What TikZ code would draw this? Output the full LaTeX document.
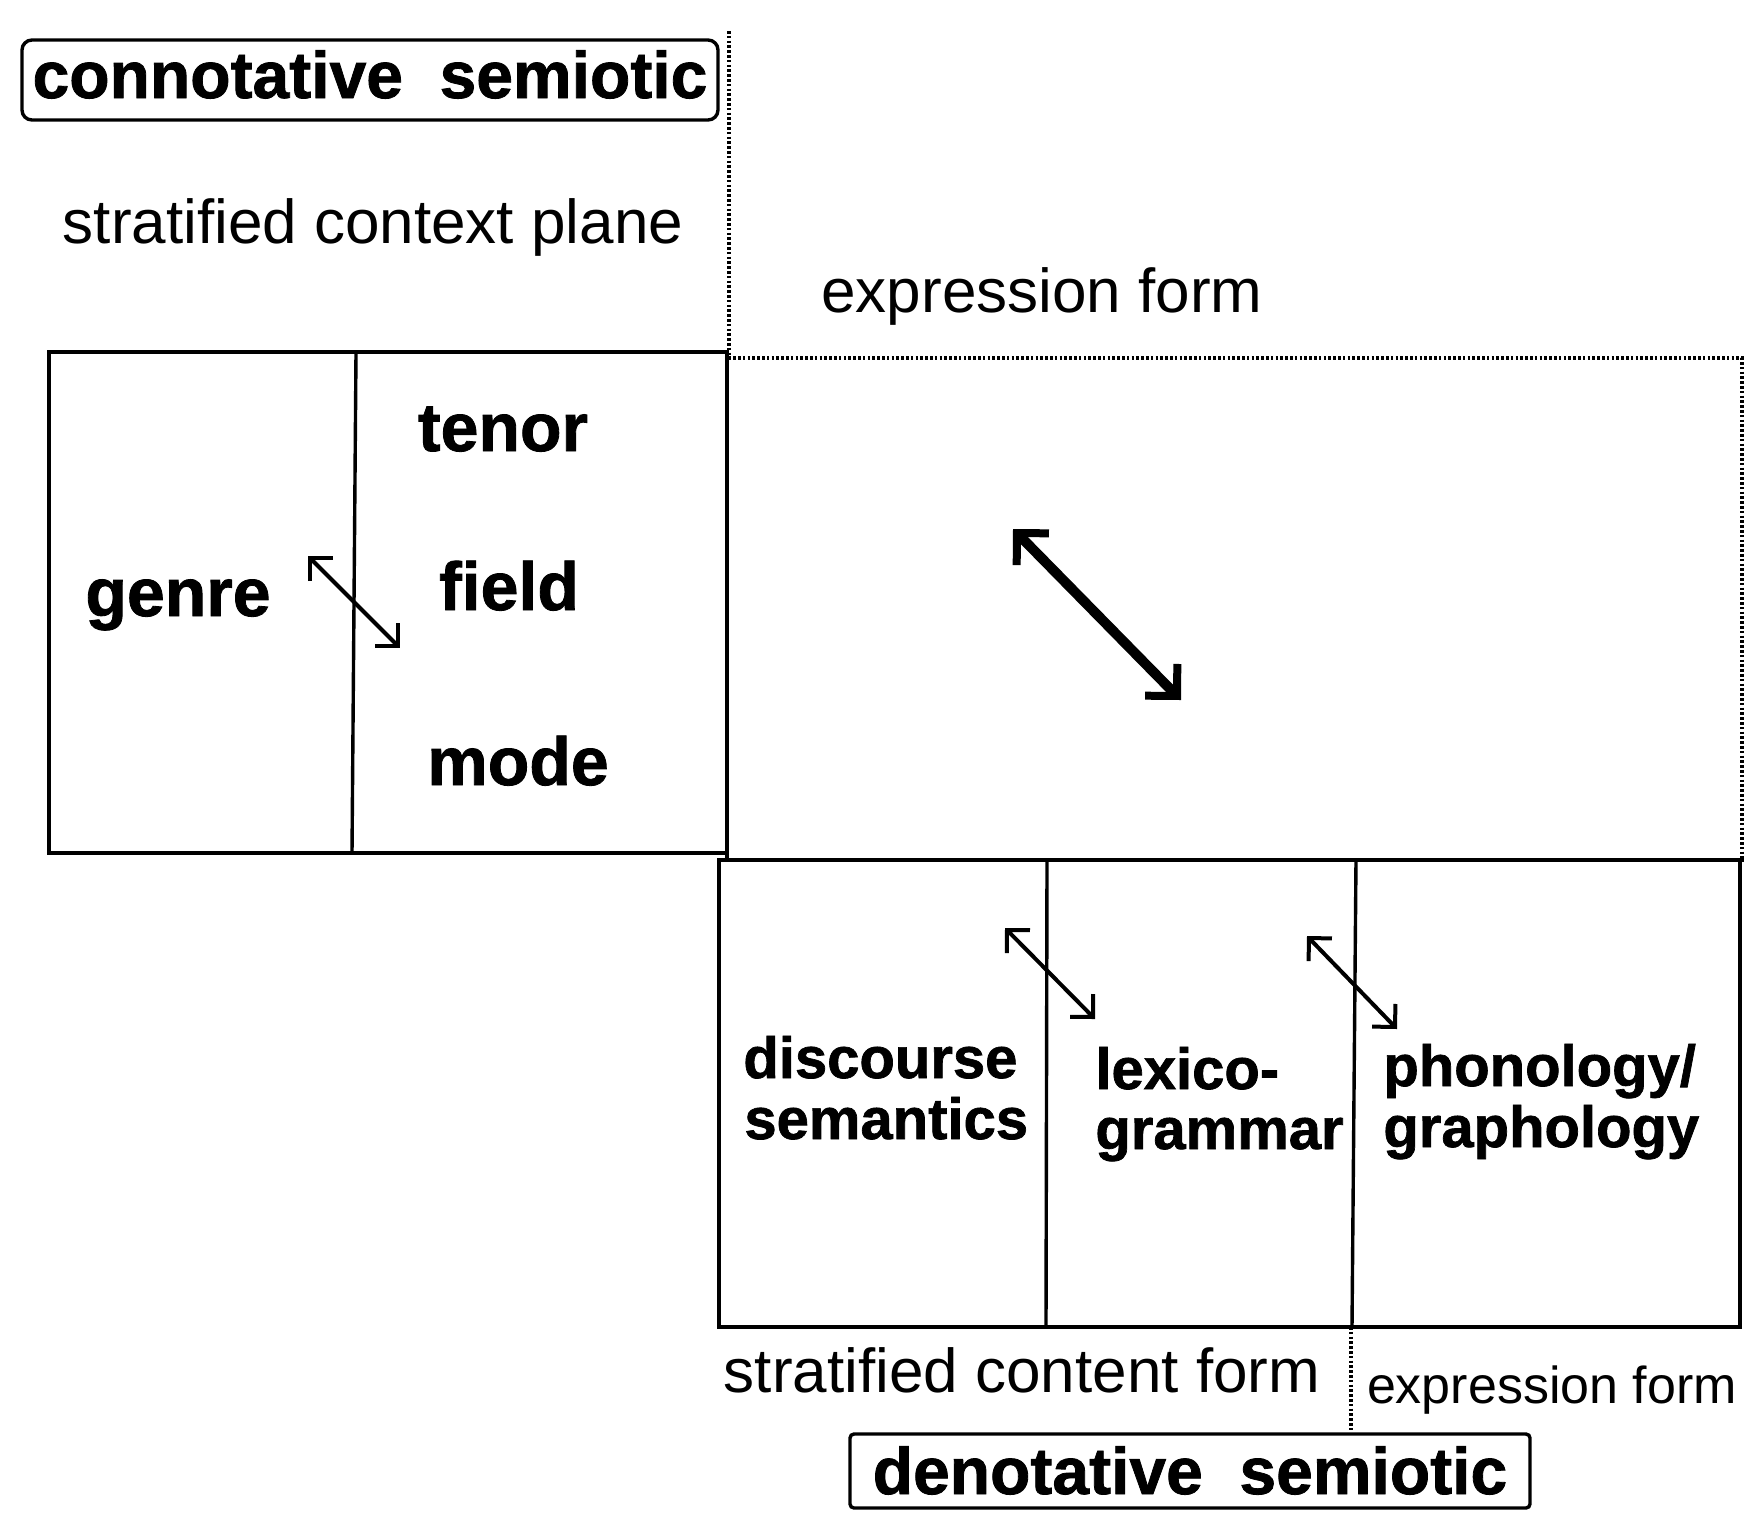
\documentclass[tikz,border=0pt]{standalone}
\usepackage{fontspec}
\setmainfont{Liberation Sans}[BoldFeatures={FakeBold=1.2}]
\usetikzlibrary{arrows.meta}

\begin{document}
\begin{tikzpicture}[x=0.5pt,y=-0.5pt,
  frame/.style={line width=2.3pt, line cap=rect},
  divider/.style={line width=1.7pt},
  guide/.style={line width=1.6pt, dash pattern=on 1.3pt off 1.1pt},
  tag/.style={draw, line width=1.7pt, rounded corners=5pt, inner sep=0pt,
    font=\bfseries\fontsize{33}{36}\selectfont},
  ctx/.style={inner sep=0pt, anchor=base, font=\bfseries\fontsize{34}{36}\selectfont},
  stratum/.style={inner sep=0pt, anchor=base west, font=\bfseries\fontsize{29}{30}\selectfont},
  caption/.style={inner sep=0pt, anchor=base, font=\fontsize{31}{34}\selectfont},
  smallcaption/.style={inner sep=0pt, anchor=base, font=\fontsize{26}{28}\selectfont},
  duo/.style={line width=2pt,
    {Straight Barb[angle=90:11.5pt]}-{Straight Barb[angle=90:11.5pt]}},
  bigduo/.style={line width=5pt,
    {Straight Barb[angle=90:16pt, line width=4pt]}-{Straight Barb[angle=90:16pt, line width=4pt]}}
]
\useasboundingbox (0,0) rectangle (1746,1512);

% semiotic tags
\node[tag, minimum width=348pt, minimum height=40pt, text height=22pt, text depth=4pt]
  (conn) at (370,80) {connotative\ \ semiotic};
\node[tag, rounded corners=2pt, minimum width=340pt, minimum height=37pt, text height=26pt, text depth=3pt]
  (denot) at (1190,1471) {denotative\ \ semiotic};

% plane captions
\node[caption] (ctxplane) at (373,243) {stratified context plane};
\node[caption] (exptop) at (1042,312) {expression form};
\node[caption] (contentform) at (1022,1392) {stratified content form};
\node[smallcaption] (expbottom) at (1552,1403) {expression form};

% context plane
\coordinate (L-nw) at (49,352);
\coordinate (L-se) at (727,853);
\draw[frame] (L-nw) rectangle (L-se);
\coordinate (Ldiv-t) at (356,353);
\coordinate (Ldiv-b) at (352,853);
\draw[divider] (Ldiv-t) -- (Ldiv-b);

% expression form of the connotative semiotic
\coordinate (c-top) at (729,31);
\coordinate (c-corner) at (729,358);
\coordinate (e-corner) at (1742,358);
\coordinate (e-bottom) at (1742,860);
\draw[guide] (c-top) -- (c-corner) -- (e-corner) -- (e-bottom);
\coordinate (E-left-b) at (727,860);
\draw[frame] (L-se) -- (E-left-b);

% denotative semiotic strata
\coordinate (D-nw) at (719,860);
\coordinate (D-se) at (1740,1327);
\draw[frame] (D-nw) rectangle (D-se);
\draw[frame] (D-nw) -- (e-bottom);
\coordinate (Ddiv1-t) at (1047,860);
\coordinate (Ddiv1-b) at (1046,1327);
\coordinate (Ddiv2-t) at (1356,860);
\coordinate (Ddiv2-b) at (1352,1327);
\draw[divider] (Ddiv1-t) -- (Ddiv1-b);
\draw[divider] (Ddiv2-t) -- (Ddiv2-b);
\coordinate (d-top) at (1351,1327);
\draw[guide] (d-top) -- (d-top |- denot.north);

% labels
\node[ctx] (genre) at (178,616) {genre};
\node[ctx] (tenor) at (503,451) {tenor};
\node[ctx] (field) at (509,610) {field};
\node[ctx] (mode) at (518,785) {mode};
\node[stratum] (disc1) at (743,1078) {discourse};
\node[stratum] (disc2) at (744,1139) {semantics};
\node[stratum] (lex1) at (1095,1089) {lexico-};
\node[stratum] (lex2) at (1095,1149) {grammar};
\node[stratum] (phon1) at (1383,1086) {phonology/};
\node[stratum] (phon2) at (1383,1147) {graphology};

% realisation arrows
\coordinate (a1s) at (308,556);
\coordinate (a1e) at (400,648);
\draw[duo] (a1s) -- (a1e);
\coordinate (a2s) at (1013,529);
\coordinate (a2e) at (1181,700);
\draw[bigduo] (a2s) -- (a2e);
\coordinate (a3s) at (1005,928);
\coordinate (a3e) at (1095,1019);
\draw[duo] (a3s) -- (a3e);
\coordinate (a4s) at (1307,936);
\coordinate (a4e) at (1397,1029);
\draw[duo] (a4s) -- (a4e);
\end{tikzpicture}
\end{document}
